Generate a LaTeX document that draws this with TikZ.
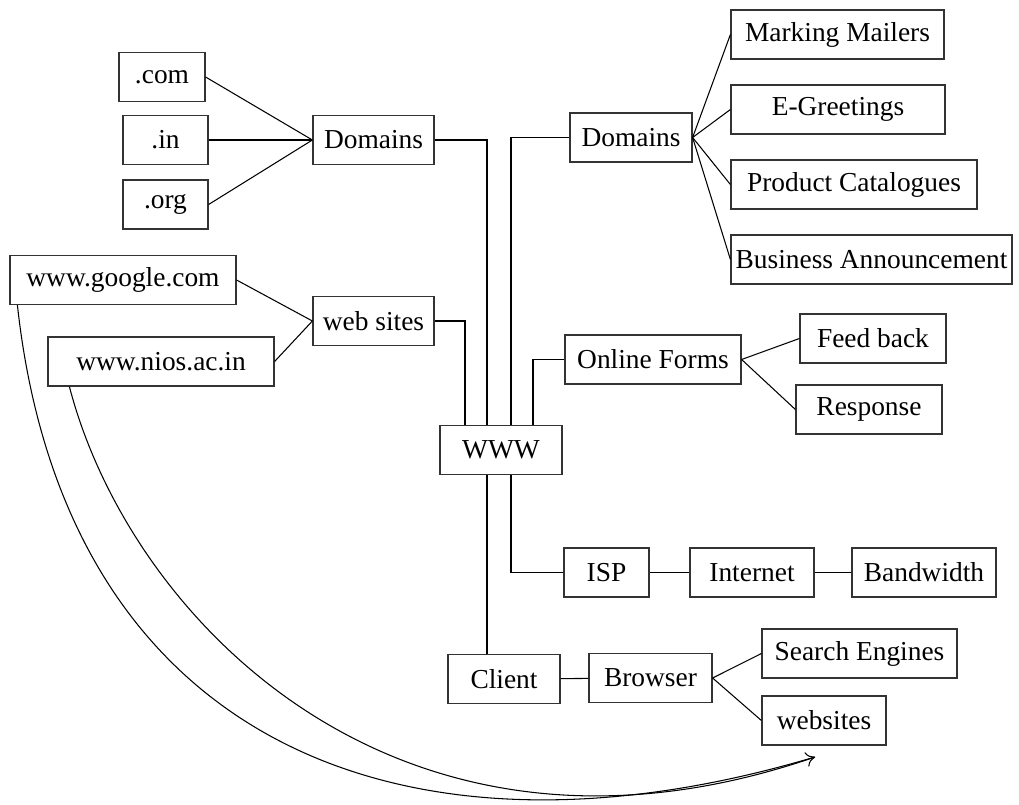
\documentclass[tikz,border=0pt]{standalone}
\usepackage{fontspec}
\setmainfont{Liberation Serif}
\usetikzlibrary{arrows.meta}

\tikzset{
  box/.style={draw=black!80,line width=0.7pt,inner sep=0pt,minimum height=0.98cm,
    font=\fontsize{15.6}{18}\selectfont},
  link/.style={line width=0.6pt}
}

\begin{document}
\begin{tikzpicture}[x=0.02cm,y=-0.02cm]
\useasboundingbox (0,0) rectangle (1019,805);
% left side: domains and web sites
\node[box,minimum width=1.72cm] (dotcom) at (162,77) {.com};
\node[box,minimum width=1.70cm] (dotin) at (165.5,140) {.in};
\node[box,minimum width=1.70cm] (dotorg) at (165.5,204.5) {.org};
\node[box,minimum width=2.42cm] (domL) at (373.5,140) {Domains};
\node[box,minimum width=4.52cm] (google) at (123,280) {www.google.com};
\node[box,minimum width=4.52cm] (nios) at (161,361.5) {www.nios.ac.in};
\node[box,minimum width=2.42cm] (sitesL) at (373.5,321) {web sites};
% centre
\node[box,minimum width=2.44cm] (www) at (501,450) {WWW};
% right side
\node[box,minimum width=2.44cm] (domR) at (631,137.5) {Domains};
\node[box,minimum width=4.26cm] (mail) at (837.5,34.5) {Marking Mailers};
\node[box,minimum width=4.28cm] (greet) at (838,109.5) {E-Greetings};
\node[box,minimum width=4.92cm] (catal) at (854,184.5) {Product Catalogues};
\node[box,minimum width=5.62cm] (busin) at (871.5,259.5) {Business Announcement};
\node[box,minimum width=3.52cm] (forms) at (653,359.5) {Online Forms};
\node[box,minimum width=2.92cm] (feed) at (873,338.5) {Feed back};
\node[box,minimum width=2.92cm] (resp) at (869,409.5) {Response};
\node[box,minimum width=1.70cm] (isp) at (606.5,572.5) {ISP};
\node[box,minimum width=2.48cm] (inet) at (752,572.5) {Internet};
\node[box,minimum width=2.88cm] (band) at (924,572.5) {Bandwidth};
\node[box,minimum width=2.24cm] (client) at (504,679) {Client};
\node[box,minimum width=2.46cm] (browser) at (650.5,678) {Browser};
\node[box,minimum width=3.90cm] (search) at (859.5,653.5) {Search Engines};
\node[box,minimum width=2.48cm] (websites) at (824,720.5) {websites};

% trunk lines into WWW
\coordinate (tA) at (465,0); \coordinate (tB) at (487,0);
\coordinate (tC) at (511,0); \coordinate (tD) at (533,0);
\coordinate (tip) at (815,757);

\foreach \n in {dotcom,dotin,dotorg} \draw[link] (\n.east) -- (domL.west);
\draw[link] (google.east) -- (sitesL.west);
\draw[link] (nios.east) -- (sitesL.west);
\draw[link] (sitesL.east) -| (tA |- www.north);
\draw[link] (domL.east) -| (tB |- www.north);
\draw[link] (domR.west) -| (tC |- www.north);
\draw[link] (forms.west) -| (tD |- www.north);
\foreach \n in {mail,greet,catal,busin} \draw[link] (domR.east) -- (\n.west);
\draw[link] (forms.east) -- (feed.west);
\draw[link] (forms.east) -- (resp.west);
\draw[link] (tB |- www.south) -- (tB |- client.north);
\draw[link] (tC |- www.south) |- (isp.west);
\draw[link] (isp) -- (inet) -- (band);
\draw[link] (client) -- (browser);
\draw[link] (browser.east) -- (search.west);
\draw[link] (browser.east) -- (websites.west);

% sites reached through the browser
\draw[link,-{To[length=1.8mm,width=3mm]}] ([xshift=0.16cm]google.south west) .. controls (65,740) and (400,880) .. (tip);
\draw[link] ([xshift=0.44cm]nios.south west) .. controls (130,620) and (400,900) .. (tip);
\end{tikzpicture}
\end{document}
